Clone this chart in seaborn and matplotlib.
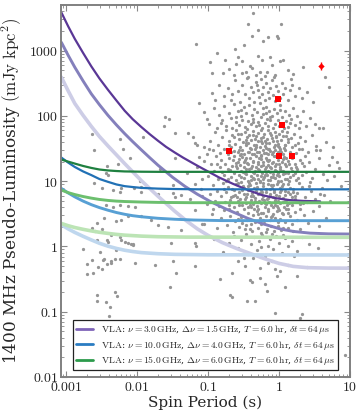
import numpy as np
import pandas as pd
import matplotlib
matplotlib.use("Agg")
import matplotlib.pyplot as plt
import seaborn as sns
from matplotlib.lines import Line2D

# ---- sensitivity curves: spin period (s) vs 1400 MHz pseudo-luminosity (mJy kpc^2)
# VLA 3 GHz
p3_dark = [0.00086, 0.00107, 0.00133, 0.00174, 0.00227, 0.00295, 0.0039, 0.00513, 0.0067, 0.0087, 0.0115,
           0.0151, 0.0197, 0.0257, 0.034, 0.0447, 0.058, 0.0741, 0.094, 0.141, 0.225, 0.355, 0.562, 0.891,
           1.41, 2.24, 3.8]
l3_dark = [3850, 2370, 1514, 922, 575, 376, 251, 172, 120, 89, 67.6,
           52.5, 41.7, 33.5, 27.5, 22.9, 19.5, 16.8, 14.6, 11.5, 9.1, 7.4, 6.17, 5.5,
           5.13, 4.98, 4.9]
p3_mid = [0.00086, 0.00107, 0.00133, 0.00174, 0.00227, 0.00295, 0.0039, 0.00513, 0.0067, 0.0087, 0.0115,
          0.0151, 0.0197, 0.0316, 0.0474, 0.0708, 0.107, 0.178, 0.365, 0.603, 1.03, 1.585, 2.73, 5.01, 10]
l3_mid = [1340, 851, 556, 343, 218, 149, 102, 72.8, 53.5, 40.3, 30.2,
          22.9, 17.6, 11.5, 8.32, 6.31, 4.9, 3.76, 2.69, 2.21, 1.86, 1.70, 1.60, 1.56, 1.55]
p3_light = [0.00086, 0.00107, 0.00133, 0.00174, 0.00227, 0.00295, 0.0039, 0.0067, 0.0115, 0.0197, 0.034,
            0.0501, 0.0708, 0.1, 0.158, 0.251, 0.398, 0.631, 1.0, 1.585, 2.51, 5.01, 10]
l3_light = [392, 243, 155, 102, 69.2, 48.5, 34.7, 18.6, 10.2, 5.89, 3.47,
            2.45, 1.86, 1.48, 1.15, 0.933, 0.776, 0.646, 0.55, 0.495, 0.473, 0.466, 0.465]
# VLA 10 GHz
p10_dark = [0.00086, 0.00107, 0.00133, 0.00174, 0.00227, 0.00295, 0.0039, 0.00513, 0.0067, 0.0087, 0.0115,
            0.0197, 0.0316, 0.077, 10]
l10_dark = [23.0, 19.3, 16.5, 14.1, 12.4, 10.8, 9.77, 8.91, 8.39, 8.13, 7.89, 7.69, 7.59, 7.5, 7.5]
p10_mid = [0.00086, 0.00107, 0.00133, 0.00174, 0.00227, 0.00295, 0.0039, 0.00513, 0.0067, 0.0087, 0.0115,
           0.0197, 0.034, 0.063, 0.158, 10]
l10_mid = [7.74, 6.61, 5.75, 4.95, 4.37, 3.94, 3.59, 3.31, 3.11, 2.96, 2.85, 2.7, 2.61, 2.54, 2.49, 2.48]
p10_light = [0.00086, 0.00107, 0.00133, 0.00174, 0.00227, 0.00295, 0.0039, 0.00513, 0.0067, 0.0087, 0.0115,
             0.0197, 0.034, 0.1, 10]
l10_light = [2.15, 1.86, 1.64, 1.43, 1.26, 1.12, 1.01, 0.933, 0.875, 0.836, 0.805, 0.774, 0.757, 0.745, 0.74]
# VLA 15 GHz
p15_dark = [0.00086, 0.00107, 0.00133, 0.00174, 0.00227, 0.00295, 0.0039, 0.00513, 0.0067, 0.0115, 0.0197, 10]
l15_dark = [21.4, 19.95, 18.6, 17.1, 15.96, 15.1, 14.6, 14.3, 14.1, 13.96, 13.9, 13.9]
p15_mid = [0.00086, 0.00107, 0.00133, 0.00174, 0.00227, 0.00295, 0.0039, 0.00513, 0.0067, 0.0115, 0.0197,
           0.063, 10]
l15_mid = [7.3, 6.68, 6.24, 5.82, 5.5, 5.25, 5.07, 4.95, 4.88, 4.79, 4.73, 4.68, 4.67]
p15_light = [0.00086, 0.00107, 0.00133, 0.00174, 0.00227, 0.00295, 0.0039, 0.00513, 0.0067, 0.0115, 0.0197,
             0.05, 10]
l15_light = [2.25, 2.08, 1.95, 1.83, 1.73, 1.65, 1.585, 1.53, 1.49, 1.44, 1.41, 1.39, 1.38]

# ---- known pulsars, (log10 P, log10 L)
msp_pts = [
    (-2.64, 1.73), (-2.61, 1.48), (-2.24, 1.65), (-2.20, 1.50), (-1.92, 1.67), (-2.10, 1.36), (-2.27, 1.27),
    (-2.42, 1.23), (-2.43, 1.12), (-2.41, 1.10), (-2.61, 0.97), (-2.49, 0.89), (-2.34, 0.87), (-2.22, 0.89),
    (-2.24, 0.84), (-1.96, 1.00), (-1.94, 0.91), (-2.04, 0.90), (-1.68, 1.19), (-1.49, 0.94), (-1.70, 0.81),
    (-1.49, 0.82), (-1.38, 0.79), (-1.19, 0.96), (-1.09, 1.04), (-2.76, -0.04), (-2.64, -0.21), (-2.62, -0.41),
    (-2.70, -0.42), (-2.55, -0.31), (-2.52, -0.08), (-2.48, -0.21), (-2.46, -0.19), (-2.42, 0.10), (-2.41, 0.07),
    (-2.56, 0.10), (-2.59, 0.23), (-2.64, 0.28), (-2.50, 0.26), (-2.36, 0.18), (-2.24, 0.15), (-2.22, 0.10),
    (-2.17, 0.07), (-2.13, 0.06), (-2.09, 0.03), (-2.06, 0.03), (-2.05, 0.02), (-2.29, -0.05), (-2.37, -0.23),
    (-2.36, -0.26), (-2.31, -0.19), (-2.24, -0.19), (-2.03, -0.26), (-2.42, -0.27), (-2.50, -0.35), (-2.71, -0.27),
    (-2.29, 0.39), (-2.22, 0.41), (-2.13, 0.47), (-2.46, 0.43), (-2.56, 0.36), (-1.94, 0.46), (-1.70, 0.33),
    (-1.38, 0.25), (-1.19, 0.05), (-1.17, 0.00), (-1.52, 0.05), (-1.50, -0.22), (-1.45, -0.41), (-1.53, -0.62),
    (-1.19, -0.30), (-1.75, -0.28), (-2.56, -0.74), (-2.56, -0.84), (-2.43, -0.85), (-2.38, -0.92), (-2.31, -0.70),
    (-2.28, -0.76), (-2.40, -1.06), (-2.43, 0.63), (-2.34, 0.61), (-2.24, 0.64), (-2.13, 0.62), (-2.03, 0.60),
    (-1.94, 0.84), (-1.80, 0.40), (-1.56, 0.30), (-1.47, 0.76), (-1.19, 0.56), (-1.09, 0.35),
]
top_pts = [
    (-0.37, 3.58), (-0.44, 3.41), (0.03, 3.41), (-0.30, 3.32), (-0.03, 3.23), (-0.02, 3.19), (-0.38, 3.23),
    (-0.23, 3.15), (-0.16, 3.21), (-0.62, 3.03), (-1.17, 3.10), (-0.50, 3.08),
    (-0.87, 2.97), (-0.76, 2.85), (-0.97, 2.83), (-0.58, 2.90), (-0.52, 2.84), (-0.60, 2.80), (-0.30, 2.92),
    (-0.24, 2.85), (0.01, 2.84), (0.05, 2.86), (-0.41, 2.77), (-0.38, 2.73), (-0.17, 2.68), (-0.27, 2.68),
    (-0.47, 2.68), (-0.70, 2.72), (-0.94, 2.65), (-0.52, 2.65), (-0.10, 2.78), (-0.33, 2.62), (-0.20, 2.61),
    (0.12, 2.70), (0.20, 2.64), (-0.64, 2.62), (-0.44, 2.60), (-0.05, 2.63), (0.65, 2.60), (0.34, 2.75),
    (-0.79, 2.66), (-0.12, 2.90),
    (-1.12, 2.19), (-0.95, 2.35), (-0.85, 2.48), (-0.78, 2.30), (-0.72, 2.42), (-0.68, 2.25), (-0.62, 2.55),
    (-0.58, 2.38), (-0.55, 2.22), (-0.52, 2.47), (-0.48, 2.33), (-0.45, 2.58), (-0.42, 2.27), (-0.40, 2.44),
    (-0.37, 2.36), (-0.35, 2.21), (-0.33, 2.52), (-0.30, 2.40), (-0.28, 2.29), (-0.26, 2.56), (-0.24, 2.34),
    (-0.22, 2.45), (-0.20, 2.24), (-0.18, 2.50), (-0.16, 2.37), (-0.14, 2.28), (-0.12, 2.42), (-0.10, 2.55),
    (-0.08, 2.32), (-0.06, 2.23), (-0.04, 2.46), (-0.02, 2.38), (0.01, 2.27), (0.04, 2.50), (0.06, 2.34),
    (0.09, 2.43), (0.12, 2.25), (0.15, 2.39), (0.19, 2.48), (0.23, 2.31), (0.28, 2.42), (0.33, 2.28),
    (0.40, 2.36), (0.70, 2.45), (0.48, 2.22), (-0.90, 2.24), (-0.66, 2.33), (-0.31, 2.47), (-0.07, 2.59),
    (0.17, 2.57),
    (-1.05, 2.06), (-1.02, 1.96), (-1.60, 1.99), (-1.55, 1.96), (-1.62, 1.84), (-0.98, 1.88), (-0.92, 2.12),
    (-0.88, 1.82), (-0.84, 2.02), (-0.80, 1.93), (-0.77, 2.15), (-0.74, 1.85), (-0.71, 2.05), (-0.68, 1.97),
    (-0.66, 1.81), (-0.63, 2.18), (-0.61, 1.90), (-0.58, 2.08), (-0.56, 1.86), (-0.54, 2.00), (-0.52, 1.94),
    (-0.50, 2.13), (-0.48, 1.83), (-0.46, 2.04), (-0.44, 1.92), (-0.42, 2.17), (-0.40, 1.87), (-0.38, 2.01),
    (-0.36, 1.95), (-0.35, 2.10), (-0.33, 1.84), (-0.31, 2.06), (-0.29, 1.91), (-0.27, 2.19), (-0.25, 1.98),
    (-0.24, 1.82), (-0.22, 2.03), (-0.20, 1.89), (-0.19, 2.14), (-0.17, 1.96), (-0.15, 1.85), (-0.14, 2.08),
    (-0.12, 1.93), (-0.10, 2.00), (-0.09, 1.81), (-0.07, 2.11), (-0.05, 1.88), (-0.03, 2.05), (-0.02, 1.94),
    (0.00, 1.84), (0.02, 2.16), (0.04, 1.99), (0.06, 1.87), (0.08, 2.07), (0.10, 1.92), (0.12, 1.83),
    (0.14, 2.02), (0.17, 1.95), (0.20, 2.12), (0.23, 1.86), (0.26, 2.00), (0.30, 1.90), (0.34, 2.08),
    (0.38, 1.85), (0.43, 1.97), (0.50, 1.88), (0.57, 1.82), (-0.45, 1.80), (-0.28, 1.86), (-0.13, 1.98),
    (0.07, 1.81), (-0.60, 1.98), (-0.37, 1.91), (-0.18, 2.05), (0.15, 1.89), (-0.82, 1.89), (-0.53, 2.09),
    (-0.23, 2.12), (0.28, 1.81), (0.01, 2.09), (0.62, 1.81),
]
mid_pts = [
    (-1.47, 1.74), (-1.28, 1.74), (-1.21, 1.67), (-1.19, 1.58), (-1.06, 1.52), (-1.02, 1.42), (-0.97, 1.61),
    (-0.93, 1.47), (-0.90, 1.75), (-0.86, 1.55), (-0.83, 1.43), (-0.80, 1.68), (-0.77, 1.50), (-0.74, 1.78),
    (-0.72, 1.41), (-0.70, 1.62), (-0.68, 1.53), (-0.66, 1.71), (-0.64, 1.46), (-0.62, 1.57), (-0.60, 1.79),
    (-0.58, 1.44), (-0.57, 1.65), (-0.55, 1.52), (-0.54, 1.73), (-0.52, 1.48), (-0.51, 1.60), (-0.49, 1.41),
    (-0.48, 1.76), (-0.46, 1.55), (-0.45, 1.67), (-0.43, 1.45), (-0.42, 1.70), (-0.41, 1.51), (-0.39, 1.63),
    (-0.38, 1.42), (-0.37, 1.77), (-0.35, 1.56), (-0.34, 1.49), (-0.33, 1.69), (-0.31, 1.44), (-0.30, 1.61),
    (-0.29, 1.74), (-0.27, 1.52), (-0.26, 1.40), (-0.25, 1.66), (-0.24, 1.58), (-0.22, 1.47), (-0.21, 1.72),
    (-0.20, 1.54), (-0.19, 1.43), (-0.17, 1.64), (-0.16, 1.79), (-0.15, 1.50), (-0.14, 1.59), (-0.12, 1.46),
    (-0.11, 1.70), (-0.10, 1.41), (-0.09, 1.62), (-0.07, 1.53), (-0.06, 1.75), (-0.05, 1.48), (-0.04, 1.67),
    (-0.02, 1.44), (-0.01, 1.57), (0.00, 1.72), (0.02, 1.50), (0.03, 1.63), (0.05, 1.42), (0.06, 1.69),
    (0.08, 1.55), (0.09, 1.47), (0.11, 1.76), (0.13, 1.60), (0.15, 1.45), (0.17, 1.66), (0.19, 1.52),
    (0.21, 1.73), (0.24, 1.43), (0.27, 1.58), (0.30, 1.68), (0.33, 1.49), (0.37, 1.62), (0.41, 1.44),
    (0.46, 1.71), (0.52, 1.54), (0.58, 1.47), (0.66, 1.60), (-0.63, 1.68), (-0.53, 1.42), (-0.47, 1.63),
    (-0.40, 1.49), (-0.36, 1.71), (-0.32, 1.55), (-0.28, 1.45), (-0.23, 1.68), (-0.18, 1.51), (-0.13, 1.74),
    (-0.08, 1.45), (-0.03, 1.61), (0.01, 1.46), (0.04, 1.77), (0.07, 1.51), (0.12, 1.64), (0.16, 1.42),
    (0.22, 1.56), (-0.44, 1.59), (-0.56, 1.47), (-0.26, 1.78), (-0.15, 1.41), (0.10, 1.69), (-0.05, 1.56),
    (-0.34, 1.64), (-0.20, 1.62), (0.00, 1.52), (-0.58, 1.72), (0.28, 1.50), (-0.71, 1.56), (0.74, 1.37),
    (-1.47, 1.35), (-1.12, 1.37), (-1.30, 1.12), (-1.15, 1.22), (-1.05, 1.31), (-1.00, 1.08), (-0.96, 1.26),
    (-0.92, 1.15), (-0.89, 1.38), (-0.86, 1.03), (-0.83, 1.21), (-0.81, 1.33), (-0.78, 1.10), (-0.76, 1.27),
    (-0.74, 1.01), (-0.72, 1.18), (-0.70, 1.36), (-0.68, 1.07), (-0.66, 1.24), (-0.64, 1.13), (-0.63, 1.39),
    (-0.61, 1.02), (-0.59, 1.20), (-0.58, 1.30), (-0.56, 1.09), (-0.55, 1.25), (-0.53, 1.16), (-0.52, 1.37),
    (-0.50, 1.05), (-0.49, 1.22), (-0.48, 1.32), (-0.46, 1.11), (-0.45, 1.28), (-0.44, 1.00), (-0.42, 1.19),
    (-0.41, 1.35), (-0.40, 1.08), (-0.38, 1.24), (-0.37, 1.14), (-0.36, 1.31), (-0.35, 1.03), (-0.33, 1.21),
    (-0.32, 1.38), (-0.31, 1.10), (-0.30, 1.27), (-0.28, 1.17), (-0.27, 1.01), (-0.26, 1.34), (-0.25, 1.23),
    (-0.24, 1.12), (-0.22, 1.29), (-0.21, 1.06), (-0.20, 1.19), (-0.19, 1.36), (-0.17, 1.09), (-0.16, 1.25),
    (-0.15, 1.15), (-0.14, 1.32), (-0.12, 1.02), (-0.11, 1.20), (-0.10, 1.28), (-0.09, 1.11), (-0.07, 1.38),
    (-0.06, 1.17), (-0.05, 1.05), (-0.04, 1.26), (-0.02, 1.13), (-0.01, 1.33), (0.00, 1.08), (0.02, 1.22),
    (0.03, 1.01), (0.04, 1.30), (0.06, 1.16), (0.07, 1.37), (0.09, 1.04), (0.10, 1.24), (0.12, 1.12),
    (0.13, 1.31), (0.15, 1.07), (0.17, 1.20), (0.18, 1.35), (0.20, 1.10), (0.22, 1.27), (0.24, 1.02),
    (0.26, 1.18), (0.29, 1.33), (0.32, 1.09), (0.35, 1.23), (0.38, 1.14), (0.42, 1.29), (0.46, 1.05),
    (0.51, 1.19), (0.56, 1.36), (0.62, 1.11), (0.70, 1.25), (0.78, 1.08), (-0.60, 1.28), (-0.54, 1.06),
    (-0.47, 1.18), (-0.43, 1.26), (-0.39, 1.02), (-0.34, 1.16), (-0.29, 1.30), (-0.23, 1.04), (-0.18, 1.22),
    (-0.13, 1.14), (-0.08, 1.29), (-0.03, 1.09), (0.01, 1.18), (0.05, 1.34), (0.08, 1.13), (0.11, 1.03),
    (0.14, 1.26), (0.19, 1.15), (-0.57, 1.34), (-0.51, 1.14), (-0.46, 1.35), (-0.40, 1.20), (-0.35, 1.12),
    (-0.30, 1.04), (-0.25, 1.38), (-0.20, 1.09), (-0.16, 1.31), (-0.11, 1.06), (-0.06, 1.23), (-0.01, 1.01),
    (0.03, 1.15), (0.08, 1.27), (0.16, 1.39), (0.23, 1.13), (-0.69, 1.17), (-0.65, 1.32), (0.27, 1.05),
    (0.33, 1.28), (-0.80, 1.14), (-0.50, 1.30), (0.81, 1.30), (0.85, 1.20),
]
core_pts = [
    (-0.48, 1.12), (-0.44, 0.93), (-0.42, 1.44), (-0.39, 0.78), (-0.37, 1.29), (-0.36, 1.05), (-0.34, 0.69),
    (-0.33, 1.52), (-0.31, 0.91), (-0.30, 1.19), (-0.29, 0.58), (-0.28, 1.36), (-0.27, 0.82), (-0.26, 1.08),
    (-0.25, 1.61), (-0.24, 0.73), (-0.23, 1.25), (-0.22, 0.97), (-0.21, 1.43), (-0.20, 0.66), (-0.19, 1.14),
    (-0.18, 0.88), (-0.17, 1.33), (-0.16, 0.55), (-0.15, 1.02), (-0.14, 1.49), (-0.13, 0.77), (-0.12, 1.21),
    (-0.11, 0.94), (-0.10, 1.66), (-0.09, 0.61), (-0.08, 1.07), (-0.07, 0.83), (-0.06, 1.39), (-0.05, 0.71),
    (-0.04, 1.16), (-0.03, 0.96), (-0.02, 1.54), (-0.01, 0.59), (0.00, 1.26), (0.02, 0.89), (0.03, 1.45),
    (0.05, 0.68), (0.06, 1.11), (0.08, 0.79), (0.10, 1.35), (0.12, 0.57), (0.14, 1.00), (0.17, 1.42),
    (0.20, 0.84), (-0.52, 0.86), (-0.55, 1.40), (-0.58, 0.97), (-0.61, 1.23), (-0.65, 0.77), (-0.68, 1.45),
    (-0.72, 1.04), (-0.46, 1.58), (-0.41, 0.63), (-0.35, 1.41), (-0.26, 0.52), (-0.19, 1.58), (-0.11, 0.45),
    (-0.04, 1.69), (0.04, 0.52), (0.09, 1.55), (0.24, 1.21), (0.30, 0.58), (0.36, 1.38), (0.44, 0.98),
    (0.52, 1.48), (0.58, 0.80), (-0.87, 1.26), (-0.93, 0.58), (-0.99, 1.49), (0.68, 1.02), (0.76, 1.52),
    (-1.08, 0.78), (-1.15, 1.55), (0.88, 0.92),
]
low_pts = [
    (-1.25, 0.72), (-1.10, 0.88), (-1.02, 0.65), (-0.97, 0.80), (-0.93, 0.94), (-0.90, 0.70), (-0.87, 0.85),
    (-0.84, 0.62), (-0.81, 0.77), (-0.79, 0.97), (-0.76, 0.68), (-0.74, 0.83), (-0.72, 0.91), (-0.70, 0.64),
    (-0.68, 0.75), (-0.66, 0.88), (-0.64, 0.61), (-0.62, 0.79), (-0.60, 0.95), (-0.58, 0.69), (-0.57, 0.84),
    (-0.55, 0.73), (-0.53, 0.99), (-0.52, 0.63), (-0.50, 0.81), (-0.49, 0.90), (-0.47, 0.67), (-0.46, 0.76),
    (-0.44, 0.86), (-0.43, 0.60), (-0.41, 0.94), (-0.40, 0.71), (-0.38, 0.82), (-0.37, 0.65), (-0.35, 0.89),
    (-0.34, 0.74), (-0.32, 0.97), (-0.31, 0.62), (-0.29, 0.80), (-0.28, 0.70), (-0.26, 0.87), (-0.25, 0.66),
    (-0.23, 0.93), (-0.22, 0.78), (-0.20, 0.61), (-0.19, 0.84), (-0.17, 0.72), (-0.16, 0.96), (-0.14, 0.68),
    (-0.13, 0.81), (-0.11, 0.64), (-0.10, 0.90), (-0.08, 0.75), (-0.07, 0.86), (-0.05, 0.63), (-0.04, 0.79),
    (-0.02, 0.98), (-0.01, 0.70), (0.01, 0.83), (0.02, 0.66), (0.04, 0.92), (0.05, 0.74), (0.07, 0.61),
    (0.09, 0.85), (0.10, 0.71), (0.12, 0.95), (0.14, 0.67), (0.16, 0.80), (0.18, 0.63), (0.20, 0.88),
    (0.23, 0.73), (0.26, 0.82), (0.29, 0.65), (0.32, 0.91), (0.36, 0.76), (0.40, 0.68), (0.45, 0.85),
    (0.50, 0.72), (0.56, 0.62), (0.63, 0.79), (0.72, 0.70), (-0.63, 0.86), (-0.56, 0.63), (-0.48, 0.72),
    (-0.42, 0.97), (-0.36, 0.77), (-0.30, 0.68), (-0.24, 0.83), (-0.18, 0.65), (-0.12, 0.88), (-0.06, 0.70),
    (0.00, 0.77), (0.06, 0.96), (0.11, 0.64), (0.15, 0.90), (0.22, 0.78), (-0.51, 0.93), (-0.39, 0.61),
    (-0.27, 0.99), (-0.15, 0.74), (-0.03, 0.62), (0.03, 0.87), (0.08, 0.69), (0.19, 0.75), (-0.45, 0.80),
    (-0.33, 0.85), (-0.21, 0.71), (-0.09, 0.94), (0.13, 0.83), (0.28, 0.97), (-0.69, 0.71), (-0.59, 0.76),
    (0.34, 0.66), (0.42, 0.93), (-0.78, 0.88), (0.60, 0.90),
    (-1.05, 0.35), (-0.95, 0.50), (-0.88, 0.28), (-0.82, 0.44), (-0.77, 0.56), (-0.73, 0.33), (-0.69, 0.47),
    (-0.65, 0.22), (-0.62, 0.39), (-0.59, 0.53), (-0.56, 0.30), (-0.53, 0.45), (-0.50, 0.58), (-0.48, 0.26),
    (-0.45, 0.41), (-0.43, 0.51), (-0.40, 0.34), (-0.38, 0.24), (-0.36, 0.48), (-0.34, 0.37), (-0.31, 0.55),
    (-0.29, 0.29), (-0.27, 0.43), (-0.25, 0.21), (-0.23, 0.52), (-0.21, 0.36), (-0.19, 0.46), (-0.17, 0.27),
    (-0.15, 0.57), (-0.13, 0.40), (-0.11, 0.32), (-0.09, 0.49), (-0.07, 0.23), (-0.05, 0.44), (-0.03, 0.54),
    (-0.01, 0.31), (0.01, 0.42), (0.03, 0.25), (0.05, 0.50), (0.08, 0.37), (0.10, 0.58), (0.13, 0.29),
    (0.16, 0.46), (0.19, 0.34), (0.22, 0.53), (0.26, 0.40), (0.30, 0.27), (0.35, 0.48), (0.41, 0.36),
    (0.48, 0.55), (0.56, 0.31), (0.66, 0.44), (-0.58, 0.42), (-0.46, 0.33), (-0.35, 0.57), (-0.26, 0.35),
    (-0.18, 0.22), (-0.10, 0.47), (-0.02, 0.38), (0.06, 0.28), (0.12, 0.51), (-0.70, 0.58), (-0.41, 0.27),
    (-0.22, 0.41), (0.00, 0.56), (0.20, 0.24), (-0.52, 0.36), (-0.30, 0.50),
    (-0.79, -0.08), (-0.92, 0.12), (-0.70, 0.05), (-0.64, 0.16), (-0.58, -0.02), (-0.53, 0.10), (-0.47, 0.19),
    (-0.43, -0.12), (-0.39, 0.03), (-0.35, 0.14), (-0.31, -0.06), (-0.28, 0.08), (-0.24, 0.18), (-0.20, -0.15),
    (-0.16, 0.01), (-0.12, 0.11), (-0.08, -0.04), (-0.04, 0.16), (0.00, 0.06), (0.04, -0.10), (0.08, 0.13),
    (0.13, 0.00), (0.18, 0.09), (0.25, -0.07), (0.33, 0.15), (0.42, 0.04), (0.55, -0.03), (-0.50, -0.18),
    (-0.26, -0.01), (-0.10, 0.19), (0.06, 0.17), (-0.37, -0.17), (0.21, -0.14),
    (-0.58, -0.23), (-0.41, -0.51), (-0.38, -0.54), (-0.27, -0.48), (-0.27, -0.33), (-0.15, -0.25),
    (-0.05, -0.35), (0.02, -0.38), (-0.03, -0.46), (-0.66, -0.40), (-0.48, -0.30), (-0.20, -0.57),
    (0.12, -0.28), (0.25, -0.45), (-0.10, -0.22), (0.40, -0.32), (-0.83, -0.50),
    (0.08, -0.62), (-0.17, -0.69), (-0.66, -0.77), (-0.69, -0.74), (-0.45, -0.83), (-0.34, -0.84),
    (-0.06, -1.02), (-0.69, -1.17), (-0.83, -1.17), (0.30, -1.09), (0.30, -1.15), (0.32, -1.03), (0.93, -1.67),
]

# ---- highlighted sources
sq_period = [0.977, 1.11, 0.196, 1.01, 1.52]
sq_lum = [183, 73.5, 28.7, 24.1, 24.1]
dia_period = [3.9]
dia_lum = [590]
dia_err = [[80], [90]]

x_ticks = [0.001, 0.01, 0.1, 1, 10]
x_labels = ["$0.001$", "$0.01$", "$0.1$", "$1$", "$10$"]
y_ticks = [0.01, 0.1, 1, 10, 100, 1000]
y_labels = ["$0.01$", "$0.1$", "$1$", "$10$", "$100$", "$1000$"]

leg_labels = [
    r"$\mathrm{VLA}$: $\nu=3.0\,\mathrm{GHz}$, $\Delta\nu=1.5\,\mathrm{GHz}$, $T=6.0\,\mathrm{hr}$, $\delta t=64\,\mu\mathrm{s}$",
    r"$\mathrm{VLA}$: $\nu=10.0\,\mathrm{GHz}$, $\Delta\nu=4.0\,\mathrm{GHz}$, $T=6.0\,\mathrm{hr}$, $\delta t=64\,\mu\mathrm{s}$",
    r"$\mathrm{VLA}$: $\nu=15.0\,\mathrm{GHz}$, $\Delta\nu=6.0\,\mathrm{GHz}$, $T=6.0\,\mathrm{hr}$, $\delta t=64\,\mu\mathrm{s}$",
]

sns.set_style("ticks")
plt.rcParams["font.family"] = ["DejaVu Serif"]
plt.rcParams["mathtext.fontset"] = "cm"

pts = msp_pts + top_pts + mid_pts + core_pts + low_pts
psr = pd.DataFrame({"P": [10 ** a for a, b in pts], "L": [10 ** b for a, b in pts]})

fig = plt.figure(figsize=(3.64, 4.17), dpi=100)
ax = fig.add_axes([61 / 364, 40 / 417, 289 / 364, 372 / 417])
ax.set_xscale("log")
ax.set_yscale("log")

sns.scatterplot(data=psr, x="P", y="L", color="#959595", s=5.5, linewidth=0, ax=ax, zorder=1)

curves = [
    (p3_light, l3_light, "#cdcde6", 2.6), (p3_mid, l3_mid, "#8480bc", 2.1), (p3_dark, l3_dark, "#5a3796", 1.6),
    (p10_light, l10_light, "#bfd7ee", 2.6), (p10_mid, l10_mid, "#58a0d4", 2.1), (p10_dark, l10_dark, "#2171b5", 1.6),
    (p15_light, l15_light, "#bce4b5", 2.6), (p15_mid, l15_mid, "#6cbf6e", 2.1), (p15_dark, l15_dark, "#1f8040", 1.6),
]
for px, ly, col, lw in curves:
    sns.lineplot(x=px, y=ly, color=col, linewidth=lw, ax=ax, sort=False, estimator=None, zorder=2)

ax.plot(sq_period, sq_lum, "s", color="red", markersize=4, markeredgewidth=0, zorder=4)
ax.errorbar(dia_period, dia_lum, yerr=dia_err, fmt="D", color="red", markersize=3.2,
            markeredgewidth=0, elinewidth=1.0, capsize=0, zorder=4)

ax.set_xlim(0.00085, 10)
ax.set_ylim(0.01, 5000)
ax.set_xticks(x_ticks)
ax.set_xticklabels(x_labels)
ax.set_yticks(y_ticks)
ax.set_yticklabels(y_labels)
ax.tick_params(which="both", direction="in", top=True, right=True, color="#888888", labelsize=10, pad=2)
ax.tick_params(which="major", length=4, width=0.8)
ax.tick_params(which="minor", length=2, width=0.6)
for sp in ax.spines.values():
    sp.set_color("#808080")
    sp.set_linewidth(1.4)

ax.set_xlabel("Spin Period (s)", fontsize=11, labelpad=1)
ax.set_ylabel(r"1400 MHz Pseudo-Luminosity $(\mathrm{mJy\ kpc^2})$", fontsize=12.2, labelpad=4)

handles = [Line2D([], [], color=c, linewidth=2) for c in ["#7e64b8", "#2a7cc2", "#2c9a4b"]]
leg = ax.legend(handles, leg_labels, loc="lower center", bbox_to_anchor=(0.5, 0.005), fontsize=6.9,
                frameon=True, fancybox=False, framealpha=1, edgecolor="#222222", handlelength=1.8,
                borderpad=0.35, labelspacing=0.25, handletextpad=0.8)
leg.get_frame().set_linewidth(0.9)

fig.savefig("out.png", dpi=100)
